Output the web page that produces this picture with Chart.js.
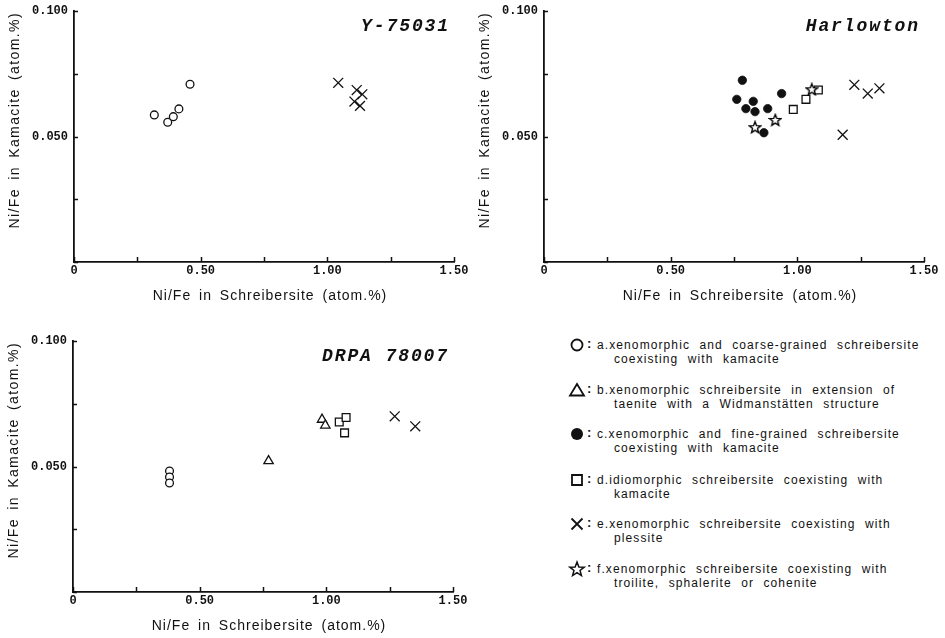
<!DOCTYPE html>
<html>
<head>
<meta charset="utf-8">
<script src="https://cdn.jsdelivr.net/npm/chart.js@4.4.1/dist/chart.umd.min.js"></script>
<style>
  body { margin: 0; background: #fff; }
  #page { position: relative; width: 945px; height: 638px; overflow: hidden; background: #fff; }
  canvas.panel { position: absolute; }
  .legenditem { position: absolute; left: 568px; width: 370px; height: 30px;
    font-family: "Liberation Sans", Arial, sans-serif; font-size: 12px; line-height: 14px;
    letter-spacing: 1.1px; word-spacing: 5px; color: #111; }
  .legenditem canvas { position: absolute; left: 0; top: -2px; }
  .legenditem .colon { position: absolute; left: 19px; top: -1px; font-weight: bold; font-size: 13px; }
  .legenditem .line1 { position: absolute; left: 29px; top: 0; white-space: nowrap; }
  .legenditem .line2 { position: absolute; left: 46px; top: 14px; white-space: nowrap; }
</style>
</head>
<body>
<div id="page">
  <canvas id="chart_y75031" class="panel" width="470" height="312" style="left:0px;top:0px"></canvas>
  <canvas id="chart_harlowton" class="panel" width="475" height="312" style="left:470px;top:0px"></canvas>
  <canvas id="chart_drpa" class="panel" width="470" height="308" style="left:-1px;top:330px"></canvas>
  <div id="legend_page"></div>
</div>
<script>
'use strict';
//** Globals - data */

let xtickvalues = [0, 0.25, 0.5, 0.75, 1.0, 1.25, 1.5];
let xticklabels = ['0', '', '0.50', '', '1.00', '', '1.50'];
let ytickvalues = [0, 0.025, 0.05, 0.075, 0.1];
let yticklabels = ['', '', '0.050', '', '0.100'];

let xtitle = 'Ni/Fe in Schreibersite (atom.%)';
let ytitle = 'Ni/Fe in Kamacite (atom.%)';

// Y-75031
let y75031_circle_x = [0.317, 0.370, 0.392, 0.414, 0.458];
let y75031_circle_y = [0.0586, 0.0557, 0.0579, 0.0610, 0.0708];
let y75031_cross_x = [1.043, 1.116, 1.138, 1.107, 1.129];
let y75031_cross_y = [0.0714, 0.0685, 0.0668, 0.0639, 0.0622];

// Harlowton
let harlowton_dot_x = [0.783, 0.761, 0.797, 0.826, 0.833, 0.883, 0.868, 0.938];
let harlowton_dot_y = [0.0724, 0.0648, 0.0611, 0.0640, 0.0599, 0.0611, 0.0515, 0.0671];
let harlowton_star_x = [0.833, 0.913, 1.057];
let harlowton_star_y = [0.0537, 0.0566, 0.0688];
let harlowton_square_x = [0.984, 1.034, 1.083];
let harlowton_square_y = [0.0608, 0.0648, 0.0685];
let harlowton_cross_x = [1.225, 1.278, 1.324, 1.179];
let harlowton_cross_y = [0.0706, 0.0671, 0.0692, 0.0507];

// DRPA 78007
let drpa_circle_x = [0.381, 0.381, 0.381];
let drpa_circle_y = [0.0482, 0.0458, 0.0434];
let drpa_triangle_x = [0.772, 0.983, 0.996];
let drpa_triangle_y = [0.0522, 0.0687, 0.0664];
let drpa_square_x = [1.051, 1.078, 1.072];
let drpa_square_y = [0.0677, 0.0695, 0.0634];
let drpa_cross_x = [1.270, 1.351];
let drpa_cross_y = [0.0700, 0.0660];

let legendkinds = ['circle', 'triangle', 'dot', 'square', 'cross', 'star'];
let legendline1 = [
  'a.xenomorphic and coarse-grained schreibersite',
  'b.xenomorphic schreibersite in extension of',
  'c.xenomorphic and fine-grained schreibersite',
  'd.idiomorphic schreibersite coexisting with',
  'e.xenomorphic schreibersite coexisting with',
  'f.xenomorphic schreibersite coexisting with'
];
let legendline2 = [
  'coexisting with kamacite',
  'taenite with a Widmanstätten structure',
  'coexisting with kamacite',
  'kamacite',
  'plessite',
  'troilite, sphalerite or cohenite'
];

let ink = '#111';

//** Helper functions */

function topoints(xs, ys){
  let pts = [];
  for (let i = 0; i < xs.length; i++){
    pts.push({x: xs[i], y: ys[i]});
  }
  return pts;
}

function drawstar(ctx, cx, cy, outer, inner){
  ctx.beginPath();
  for (let i = 0; i < 10; i++){
    let r = (i % 2 === 0) ? outer : inner;
    let a = -Math.PI / 2 + i * Math.PI / 5;
    let px = cx + Math.cos(a) * r;
    let py = cy + Math.sin(a) * r;
    if (i === 0) ctx.moveTo(px, py); else ctx.lineTo(px, py);
  }
  ctx.closePath();
}

// small canvas used as the star point style
let starimage = document.createElement('canvas');
starimage.width = 14;
starimage.height = 14;
(function(){
  let sctx = starimage.getContext('2d');
  drawstar(sctx, 7, 7.5, 6, 2.6);
  sctx.fillStyle = '#fff';
  sctx.fill();
  sctx.lineWidth = 1.4;
  sctx.strokeStyle = '#000';
  sctx.stroke();
})();

function markerstyle(kind){
  let base = {borderColor: ink, backgroundColor: '#fff', borderWidth: 1.3, pointHoverRadius: 0};
  if (kind === 'circle') return Object.assign(base, {pointStyle: 'circle', pointRadius: 3.9});
  if (kind === 'dot') return Object.assign(base, {pointStyle: 'circle', pointRadius: 4.2, backgroundColor: ink, borderWidth: 0.8});
  if (kind === 'triangle') return Object.assign(base, {pointStyle: 'triangle', pointRadius: 5.4});
  if (kind === 'square') return Object.assign(base, {pointStyle: 'rect', pointRadius: 5.5});
  if (kind === 'cross') return Object.assign(base, {pointStyle: 'crossRot', pointRadius: 7});
  if (kind === 'star') return Object.assign(base, {pointStyle: starimage, pointRadius: 6});
  return base;
}

function makedataset(label, kind, xs, ys){
  return Object.assign({label: label, data: topoints(xs, ys)}, markerstyle(kind));
}

function ticklabel(values, labels){
  return function(v){
    let k = values.findIndex(t => Math.abs(t - v) < 1e-9);
    return k >= 0 ? labels[k] : '';
  };
}

// inward tick marks, panel name and the axis titles
function textplugin(paneltitle){
  return {
    id: 'paneltext',
    afterDraw(chart){
      let ctx = chart.ctx;
      let area = chart.chartArea;
      let xs = chart.scales.x;
      let ys = chart.scales.y;
      ctx.save();
      ctx.strokeStyle = ink;
      ctx.lineWidth = 1.5;
      ctx.beginPath();
      for (let v of xtickvalues){
        let px = Math.round(xs.getPixelForValue(v)) + 0.5;
        ctx.moveTo(px, area.bottom);
        ctx.lineTo(px, area.bottom - 5);
      }
      for (let v of ytickvalues){
        let py = Math.round(ys.getPixelForValue(v)) + 0.5;
        ctx.moveTo(area.left, py);
        ctx.lineTo(area.left + 4, py);
      }
      ctx.stroke();

      ctx.fillStyle = ink;
      ctx.font = 'italic bold 18px "Liberation Mono"';
      ctx.letterSpacing = '1.9px';
      ctx.textAlign = 'right';
      ctx.textBaseline = 'middle';
      ctx.fillText(paneltitle, area.right - 4, area.top + 15);

      ctx.font = '14px "Liberation Sans"';
      ctx.letterSpacing = '1px';
      ctx.wordSpacing = '3px';
      ctx.textAlign = 'center';
      ctx.fillText(xtitle, (area.left + area.right) / 2 + 6, area.bottom + 34);

      ctx.letterSpacing = '1.4px';
      ctx.translate(15, area.top + 1);
      ctx.rotate(-Math.PI / 2);
      ctx.textAlign = 'right';
      ctx.fillText(ytitle, 0, 0);
      ctx.restore();
    }
  };
}

function makepanel(canvasid, paneltitle, datasets){
  let canvas = document.getElementById(canvasid);
  let tickfont = { family: '"Liberation Mono", monospace', size: 12, weight: 'bold' };
  let chartObj = {
    type: 'scatter',
    data: { datasets: datasets },
    options: {
      responsive: false,
      animation: false,
      devicePixelRatio: 1,
      layout: { padding: { left: 0, top: 11, right: canvas.width - 454, bottom: 0 } },
      plugins: { legend: { display: false }, tooltip: { enabled: false } },
      scales: {
        x: {
          type: 'linear',
          min: 0,
          max: 1.5,
          afterFit: function(scale){
            scale.height = canvas.height - 262;
            scale.paddingLeft = 0;
            scale.paddingRight = 0;
          },
          ticks: {
            stepSize: 0.25, autoSkip: false, maxRotation: 0, padding: 2,
            color: ink, font: tickfont,
            callback: ticklabel(xtickvalues, xticklabels)
          },
          grid: { drawOnChartArea: false, drawTicks: false },
          border: { color: ink, width: 1.8 }
        },
        y: {
          type: 'linear',
          min: 0,
          max: 0.1,
          afterFit: function(scale){
            scale.width = 74;
            scale.paddingTop = 0;
            scale.paddingBottom = 0;
          },
          ticks: {
            stepSize: 0.025, autoSkip: false, padding: 6,
            color: ink, font: tickfont,
            callback: ticklabel(ytickvalues, yticklabels)
          },
          grid: { drawOnChartArea: false, drawTicks: false },
          border: { color: ink, width: 1.8 }
        }
      }
    },
    plugins: [textplugin(paneltitle)]
  };
  return new Chart(canvas, chartObj);
}

//** Legend */

function drawlegendmarker(canvas, kind){
  let c = canvas.getContext('2d');
  let cx = 9, cy = 9;
  c.strokeStyle = ink;
  c.fillStyle = ink;
  c.lineWidth = 1.8;
  c.beginPath();
  if (kind === 'circle'){
    c.arc(cx, cy, 5.5, 0, Math.PI * 2);
    c.stroke();
  } else if (kind === 'dot'){
    c.arc(cx, cy, 6, 0, Math.PI * 2);
    c.fill();
  } else if (kind === 'triangle'){
    c.moveTo(cx, cy - 6);
    c.lineTo(cx + 7, cy + 5.5);
    c.lineTo(cx - 7, cy + 5.5);
    c.closePath();
    c.stroke();
  } else if (kind === 'square'){
    c.rect(cx - 5, cy - 5, 10, 10);
    c.stroke();
  } else if (kind === 'cross'){
    c.moveTo(cx - 5.5, cy - 5.5); c.lineTo(cx + 5.5, cy + 5.5);
    c.moveTo(cx + 5.5, cy - 5.5); c.lineTo(cx - 5.5, cy + 5.5);
    c.stroke();
  } else if (kind === 'star'){
    drawstar(c, cx, cy + 0.5, 7.5, 3.2);
    c.lineWidth = 1.5;
    c.stroke();
  }
}

let legendpage = document.getElementById('legend_page');
let legendcenters = [345, 390, 434, 480, 524, 569];
for (let i = 0; i < legendkinds.length; i++){
  let item = document.createElement('div');
  item.className = 'legenditem';
  item.style.top = (legendcenters[i] - 7) + 'px';
  let marker = document.createElement('canvas');
  marker.width = 18;
  marker.height = 18;
  drawlegendmarker(marker, legendkinds[i]);
  item.appendChild(marker);
  let colon = document.createElement('span');
  colon.className = 'colon';
  colon.textContent = ':';
  item.appendChild(colon);
  let l1 = document.createElement('div');
  l1.className = 'line1';
  l1.textContent = legendline1[i];
  item.appendChild(l1);
  let l2 = document.createElement('div');
  l2.className = 'line2';
  l2.textContent = legendline2[i];
  item.appendChild(l2);
  legendpage.appendChild(item);
}

//** Instantiations */

makepanel('chart_y75031', 'Y-75031', [
  makedataset('a', 'circle', y75031_circle_x, y75031_circle_y),
  makedataset('e', 'cross', y75031_cross_x, y75031_cross_y)
]);

makepanel('chart_harlowton', 'Harlowton', [
  makedataset('f', 'star', harlowton_star_x, harlowton_star_y),
  makedataset('c', 'dot', harlowton_dot_x, harlowton_dot_y),
  makedataset('d', 'square', harlowton_square_x, harlowton_square_y),
  makedataset('e', 'cross', harlowton_cross_x, harlowton_cross_y)
]);

makepanel('chart_drpa', 'DRPA 78007', [
  makedataset('a', 'circle', drpa_circle_x, drpa_circle_y),
  makedataset('b', 'triangle', drpa_triangle_x, drpa_triangle_y),
  makedataset('d', 'square', drpa_square_x, drpa_square_y),
  makedataset('e', 'cross', drpa_cross_x, drpa_cross_y)
]);
</script>
</body>
</html>
